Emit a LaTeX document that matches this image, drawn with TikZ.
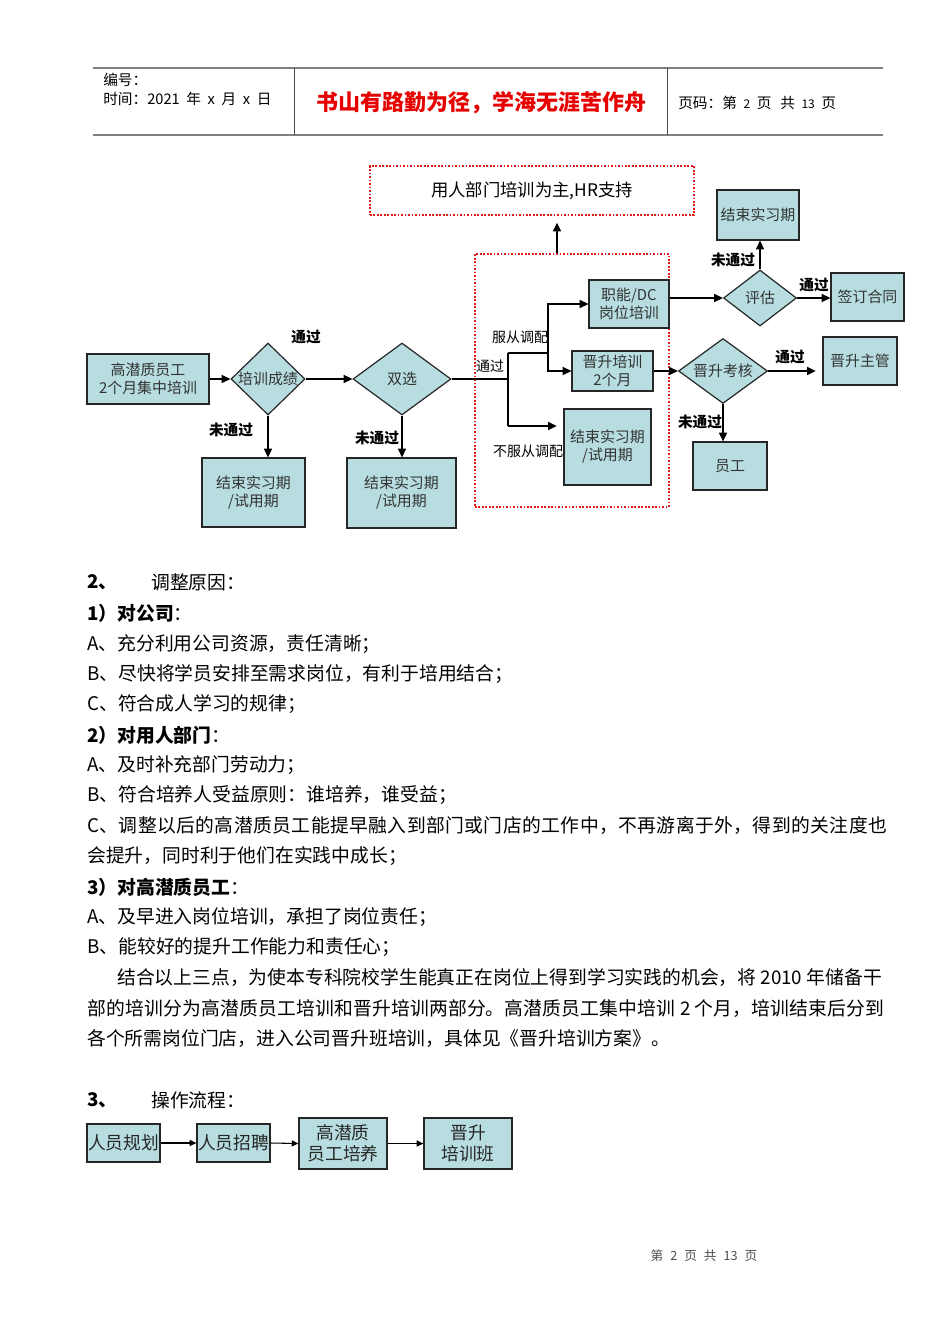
\documentclass[tikz,border=0pt]{standalone}
\usepackage{fontspec}
\setmainfont{Noto Sans CJK SC}
\usetikzlibrary{arrows.meta,shapes.geometric,calc}
\definecolor{boxc}{RGB}{183,221,224}
\definecolor{dred}{RGB}{225,25,25}
\definecolor{tred}{RGB}{230,0,0}
\definecolor{hgray}{RGB}{128,128,128}
\newcommand\fsz[2]{\fontsize{#1}{#2}\selectfont}
\tikzset{
  sz/.style 2 args={minimum width=#1*0.75pt, minimum height=#2*0.75pt},
  box/.style={draw=black!85, line width=0.9pt, fill=boxc, inner sep=0pt, align=center, font=\fsz{11.2pt}{13.5pt}, text=black!80},
  dia/.style={diamond, draw=black!85, line width=0.9pt, fill=boxc, inner sep=0pt, aspect=1},
  dtxt/.style={inner sep=0pt, font=\fsz{11.2pt}{13pt}, text=black!80},
  dotbox/.style={draw=dred, line width=1.6pt, dash pattern=on 1.3pt off 1.3pt, inner sep=0pt, font=\fsz{13pt}{15pt}},
  ln/.style={line width=1.1pt, black},
  arr/.style={line width=1.1pt, black, -{Triangle[length=6.5pt,width=6pt]}},
  tarr/.style={line width=0.8pt, black, -{Triangle[length=5pt,width=4.5pt]}},
  lbl/.style={inner sep=0pt, font=\fsz{11pt}{13pt}\bfseries},
  lbltwo/.style={inner sep=0pt, font=\fsz{10.5pt}{12pt}},
  body/.style={anchor=west, inner sep=0pt, font=\fsz{14.1pt}{17pt}},
  pbox/.style={draw=black!85, line width=0.9pt, fill=boxc, inner sep=0pt, align=center, font=\fsz{13.3pt}{16pt}, text=black!85},
  htxt/.style={anchor=west, inner sep=0pt, font=\fsz{11pt}{13pt}},
}
\newcommand\hs{\hspace{0.45em}}
\begin{document}
\begin{tikzpicture}[x=0.75pt,y=-0.75pt]
\useasboundingbox (0,0) rectangle (950,1344);
% header
\draw[hgray, line width=1.4pt] (93,68) -- (883,68);
\draw[hgray, line width=1.8pt] (93,135) -- (883,135);
\draw[black!70, line width=0.7pt] (294,68) -- (294,135);
\draw[black!70, line width=0.7pt] (667,68) -- (667,135);
\node[htxt] (h1) at (103,80) {编号：};
\node[htxt] (h2) at (103,99) {时间：2021\hs 年\hs x\hs 月\hs x\hs 日};
\node[inner sep=0pt, font=\fsz{16.5pt}{20pt}\bfseries, text=tred] (h3) at (481,103) {书山有路勤为径，学海无涯苦作舟};
\node[htxt] (h4) at (678,103) {页码：第\hs{\small 2}\hs 页\hspace{0.6em}共\hs{\small 13}\hs 页};

% flowchart
\node[dotbox, sz={324}{49}] (top) at (532,190.5) {用人部门培训为主,HR支持};
\node[dotbox, sz={194}{253}] (big) at (572,380.5) {};
\coordinate (ua) at ([xshift=-11.25pt]big.north);
\draw[arr, shorten >=5pt] (ua) -- (ua |- top.south);

\node[box, sz={122}{50}] (b1) at (148,379) {高潜质员工\\2个月集中培训};
\node[dia, sz={74}{72}] (d1) at (268,379) {};
\node[dtxt] (d1t) at (d1) {培训成绩};
\node[box, sz={103}{69}] (b2) at (253.5,492.5) {结束实习期\\/试用期};
\node[dia, sz={98}{72}] (d2) at (402,379) {};
\node[dtxt] (d2t) at (d2) {双选};
\node[box, sz={109}{70}] (b3) at (401.5,493) {结束实习期\\/试用期};
\node[box, sz={80}{48}] (b4) at (629,304) {职能/DC\\岗位培训};
\node[box, sz={81}{40}] (b5) at (612.5,371) {晋升培训\\2个月};
\node[box, sz={87}{76}] (b6) at (607.5,447) {结束实习期\\/试用期};
\node[dia, sz={73}{56}] (d3) at (760,298) {};
\node[dtxt] (d3t) at (d3) {评估};
\node[box, sz={82}{50}] (b7) at (758,215) {结束实习期};
\node[box, sz={73}{48}] (b8) at (867.5,297) {签订合同};
\node[dia, sz={89}{65}] (d4) at (723,371) {};
\node[dtxt] (d4t) at (d4) {晋升考核};
\node[box, sz={74}{48}] (b9) at (860,361) {晋升主管};
\node[box, sz={74}{48}] (b10) at (730,466) {员工};

\coordinate (jt) at (508,353);
\coordinate (jb) at (508,426);
\coordinate (k) at (548,353);

\draw[arr] (b1.east) -- (b1.east -| d1.west);
\draw[arr] (d1.east) -- (d2.west);
\draw[arr] (d1.south) -- (d1.south |- b2.north);
\draw[arr] (d2.south) -- (d2.south |- b3.north);
\draw[ln] (d2.east) -- (d2.east -| jt);
\draw[ln] (jt) -- (jb);
\draw[ln] (jt) -- (k);
\draw[arr] (k) |- (b4.west);
\draw[arr] (k) |- (b5.west);
\draw[arr, shorten >=5pt] (jb) -- (jb -| b6.west);
\draw[arr] (b4.east |- d3.west) -- (d3.west);
\draw[arr] (d3.north) -- (d3.north |- b7.south);
\draw[arr] (d3.east) -- (d3.east -| b8.west);
\draw[arr] (b5.east) -- (d4.west);
\draw[arr, shorten >=5pt] (d4.east) -- (d4.east -| b9.west);
\draw[arr] (d4.south) -- (d4.south |- b10.north);

\node[lbl] (l1) at (306,337) {通过};
\node[lbl] (l2) at (231,430) {未通过};
\node[lbl] (l3) at (377,438) {未通过};
\node[lbltwo] (l4) at (490,366) {通过};
\node[lbltwo] (l5) at (520,337) {服从调配};
\node[lbltwo] (l6) at (528,451) {不服从调配};
\node[lbl] (l7) at (733,260) {未通过};
\node[lbl] (l8) at (814,285) {通过};
\node[lbl] (l9) at (790,357) {通过};
\node[lbl] (l10) at (700,422) {未通过};

% body text
\node[body] (t0a) at (87,582) {\bfseries 2、};
\node[body] (t0b) at (151,582) {调整原因：};
\node[body] (t1) at (87,613) {\textbf{1）对公司}：};
\node[body] (t2) at (87,644) {A、充分利用公司资源，责任清晰；};
\node[body] (t3) at (87,674) {B、尽快将学员安排至需求岗位，有利于培用结合；};
\node[body] (t4) at (87,704) {C、符合成人学习的规律；};
\node[body] (t5) at (87,735) {\textbf{2）对用人部门}：};
\node[body] (t6) at (87,765) {A、及时补充部门劳动力；};
\node[body] (t7) at (87,795) {B、符合培养人受益原则：谁培养，谁受益；};
\node[body] (t8) at (87,826) {\addfontfeatures{LetterSpace=2.2}C、调整以后的高潜质员工能提早融入到部门或门店的工作中，不再游离于外，得到的关注度也};
\node[body] (t9) at (87,856) {会提升，同时利于他们在实践中成长；};
\node[body] (t10) at (87,887) {\textbf{3）对高潜质员工}：};
\node[body] (t11) at (87,917) {A、及早进入岗位培训，承担了岗位责任；};
\node[body] (t12) at (87,947) {B、能较好的提升工作能力和责任心；};
\node[body] (t13) at (117,978) {结合以上三点，为使本专科院校学生能真正在岗位上得到学习实践的机会，将 2010 年储备干};
\node[body] (t14) at (87,1009) {\addfontfeatures{LetterSpace=1.0}部的培训分为高潜质员工培训和晋升培训两部分。高潜质员工集中培训 2 个月，培训结束后分到};
\node[body] (t15) at (87,1039) {各个所需岗位门店，进入公司晋升班培训，具体见《晋升培训方案》。};
\node[body] (t16a) at (87,1100) {\bfseries 3、};
\node[body] (t16b) at (151,1100) {操作流程：};

% bottom flow
\node[pbox, sz={73}{38}] (p1) at (123.5,1143) {人员规划};
\node[pbox, sz={73}{38}] (p2) at (233.5,1143) {人员招聘};
\node[pbox, sz={88}{51}] (p3) at (343,1143.5) {高潜质\\员工培养};
\node[pbox, sz={88}{51}] (p4) at (468,1143.5) {晋升\\培训班};
\draw[tarr] (p1.east) -- (p2.west);
\draw[tarr] (p2.east) -- (p3.west);
\draw[tarr] (p3.east) -- (p4.west);

% footer
\node[inner sep=0pt, font=\fsz{9.5pt}{11pt}, text=black!70] (ft) at (704,1256) {第\hspace{0.55em}2\hspace{0.55em}页\hspace{0.55em}共\hspace{0.55em}13\hspace{0.55em}页};
\end{tikzpicture}
\end{document}
